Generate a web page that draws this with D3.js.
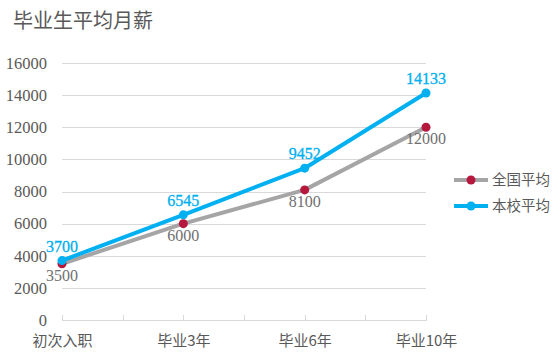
<!DOCTYPE html>
<html><head><meta charset="utf-8">
<script src="https://cdn.jsdelivr.net/npm/d3@7"></script>
<style>body{margin:0;background:#fff}svg{display:block}</style>
</head><body>
<svg id="c" width="560" height="359"></svg>
<script>
const categories = ["初次入职","毕业3年","毕业6年","毕业10年"];
const nationalAvg = [3500,6000,8100,12000];
const schoolAvg = [3700,6545,9452,14133];
const yTicks = [0,2000,4000,6000,8000,10000,12000,14000,16000];
const seriesNames = ["全国平均","本校平均"];

(function(){
const svg = d3.select("#c");
const W=560,H=359;
svg.append("rect").attr("width",W).attr("height",H).attr("fill","#fff");
const pl=62,pr=426,pt=63,pb=320;
const x = d3.scalePoint().domain(categories).range([pl,pr]);
const y = d3.scaleLinear().domain([0,16000]).range([pb,pt]);
const numFont = "'Liberation Serif','DejaVu Serif',serif";
const cjkFont = "'Noto Sans CJK SC','Noto Sans',sans-serif";

svg.append("text").attr("x",13).attr("y",28).text("毕业生平均月薪")
  .attr("font-family",cjkFont).attr("font-size",20).attr("fill","#595959");

svg.append("g").selectAll("line").data(yTicks.filter(d=>d>0)).join("line")
  .attr("x1",pl).attr("x2",pr).attr("y1",d=>Math.round(y(d))+0.5).attr("y2",d=>Math.round(y(d))+0.5)
  .attr("stroke","#D9D9D9").attr("stroke-width",1);

const ya = svg.append("g").attr("transform",`translate(${pl},0)`)
  .call(d3.axisLeft(y).tickValues(yTicks).tickSize(0).tickPadding(15).tickFormat(d3.format("d")));
ya.select(".domain").remove();
ya.selectAll("text").attr("font-family",numFont).attr("font-size",16.5).attr("fill","#595959");

const xa = svg.append("g").attr("transform",`translate(0,${Math.round(pb)+0.5})`)
  .call(d3.axisBottom(x).tickSize(0).tickPadding(15));
xa.select(".domain").attr("stroke","#D9D9D9").attr("d",`M${pl},0H${pr}`);
xa.selectAll("text").attr("font-family",cjkFont).attr("font-size",15).attr("fill","#595959");
const step = x.step();
const tickPos = d3.range(0,categories.length*2-1).map(i=>pl+i*step/2);
svg.append("g").selectAll("line").data(tickPos).join("line")
  .attr("x1",d=>Math.round(d)+0.5).attr("x2",d=>Math.round(d)+0.5)
  .attr("y1",pb-5).attr("y2",pb+1).attr("stroke","#D9D9D9");

const line = d3.line().x((d,i)=>x(categories[i])).y(d=>y(d));
svg.append("path").datum(nationalAvg).attr("d",line).attr("fill","none")
  .attr("stroke","#A5A5A5").attr("stroke-width",4).attr("stroke-linejoin","round").attr("stroke-linecap","round");
svg.append("g").selectAll("circle").data(nationalAvg).join("circle")
  .attr("cx",(d,i)=>x(categories[i])).attr("cy",d=>y(d)).attr("r",4.5).attr("fill","#B5173D");
svg.append("g").selectAll("text").data(nationalAvg).join("text")
  .attr("x",(d,i)=>x(categories[i])).attr("y",d=>y(d)+17).attr("text-anchor","middle")
  .attr("font-family",numFont).attr("font-size",16).attr("fill","#6F6F6F").text(d=>d);
svg.append("path").datum(schoolAvg).attr("d",line).attr("fill","none")
  .attr("stroke","#00B0F0").attr("stroke-width",4).attr("stroke-linejoin","round").attr("stroke-linecap","round");
svg.append("g").selectAll("circle").data(schoolAvg).join("circle")
  .attr("cx",(d,i)=>x(categories[i])).attr("cy",d=>y(d)).attr("r",4.5).attr("fill","#00B0F0");
svg.append("g").selectAll("text").data(schoolAvg).join("text")
  .attr("x",(d,i)=>x(categories[i])).attr("y",d=>y(d)-9).attr("text-anchor","middle")
  .attr("font-family",numFont).attr("font-size",16).attr("fill","#00B0F0")
  .attr("stroke","#00B0F0").attr("stroke-width",0.3).text(d=>d);

const legColors=[["#A5A5A5","#B5173D"],["#00B0F0","#00B0F0"]];
const lg = svg.append("g").selectAll("g").data(seriesNames).join("g")
  .attr("transform",(d,i)=>`translate(0,${180+i*26})`);
lg.append("line").attr("x1",454).attr("x2",488).attr("stroke",(d,i)=>legColors[i][0]).attr("stroke-width",4);
lg.append("circle").attr("cx",471).attr("r",4.5).attr("fill",(d,i)=>legColors[i][1]);
lg.append("text").attr("x",492).attr("y",5).text(d=>d)
  .attr("font-family",cjkFont).attr("font-size",14.5).attr("fill","#595959");
})();
</script>
</body></html>
